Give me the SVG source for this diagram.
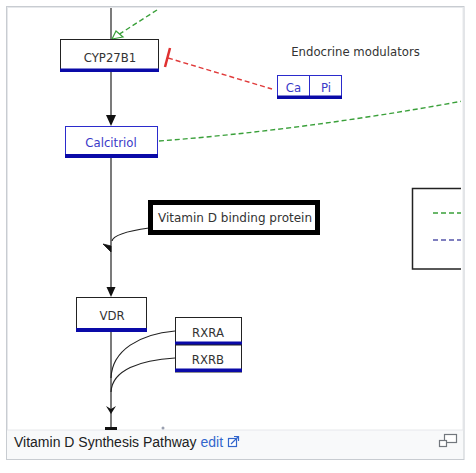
<svg xmlns="http://www.w3.org/2000/svg" width="476" height="473" viewBox="0 0 476 473">
<defs>
<style>
.lbl{font-family:"DejaVu Sans",Verdana,sans-serif;font-size:11.7px;fill:#333;text-anchor:middle}
.blt{fill:#3a3ac8}
.box{fill:#fff;stroke:#222;stroke-width:1}
.bbox{fill:#fff;stroke:#2b2bcc;stroke-width:1}
.bar{fill:#0a0aa8}
.ln{fill:none;stroke:#222;stroke-width:1.2}
.gd{fill:none;stroke:#3aa03a;stroke-width:1.4;stroke-dasharray:5,3}
.rd{fill:none;stroke:#e03a3a;stroke-width:1.4;stroke-dasharray:5,3}
.pd{fill:none;stroke:#5555aa;stroke-width:1.4;stroke-dasharray:5,3}
.cap{font-family:"Liberation Sans",Arial,sans-serif;font-size:14px;fill:#202122}
</style>
<clipPath id="img"><rect x="8" y="8" width="453" height="422"/></clipPath>
</defs>
<rect x="6.5" y="6.5" width="457.5" height="453" fill="#f8f9fa" stroke="#c8ccd1"/>
<rect x="7.5" y="7.5" width="455.5" height="422.5" fill="#fff" stroke="#e6e8eb"/>
<g clip-path="url(#img)">
<g id="connectors">
<line class="ln" x1="111" y1="8" x2="111" y2="39"/>
<line class="gd" x1="157" y1="10" x2="118" y2="35"/>
<polygon points="112,39 116,31 123,37" fill="#fff" stroke="#3aa03a" stroke-width="1.2"/>
<line class="ln" x1="111" y1="72" x2="111" y2="116"/>
<polygon points="106,115 116,115 111,126" fill="#111"/>
<line class="rd" x1="168" y1="58" x2="272" y2="89"/>
<line x1="170" y1="48" x2="165" y2="67" stroke="#e03030" stroke-width="2.5"/>
<path class="gd" d="M159,141 Q304,130 463,101"/>
<line class="ln" x1="111" y1="158" x2="111" y2="288"/>
<polygon points="106.5,287 115.5,287 111,297" fill="#111"/>
<path class="ln" d="M149,228 C128,231 113,235 112,241"/>
<path d="M103,244 L111,252 L111,246 Z" fill="#111" stroke="#111" stroke-width="0.8"/>
<line class="ln" x1="111" y1="332" x2="111" y2="430"/>
<path class="ln" d="M175,331 C140,334 112,350 111,378"/>
<path class="ln" d="M175,358 C140,360 112,370 111,392"/>
<polygon points="106,406 111,409 116,406 111,414" fill="#111"/>
<rect x="105" y="427" width="12" height="3" fill="#111"/>
<circle cx="163" cy="428" r="1.5" fill="#9aa0b0"/>
</g>
<g id="cyp27b1">
<rect class="box" x="60.5" y="39.5" width="98" height="32"/>
<rect class="bar" x="60" y="68.5" width="99" height="3.5"/>
<text class="lbl" x="110" y="62">CYP27B1</text>
</g>
<g id="endocrine">
<text class="lbl" x="355.5" y="56">Endocrine modulators</text>
</g>
<g id="capi">
<rect class="bbox" x="277.5" y="75.5" width="64" height="23"/>
<line x1="309.5" y1="75.5" x2="309.5" y2="98" stroke="#2b2bcc"/>
<rect class="bar" x="277" y="95.5" width="65" height="3.5"/>
<text class="lbl blt" x="293.5" y="92">Ca</text>
<text class="lbl blt" x="326" y="92">Pi</text>
</g>
<g id="calcitriol">
<rect class="bbox" x="65.5" y="126.5" width="92" height="31"/>
<rect class="bar" x="65" y="154" width="93" height="4"/>
<text class="lbl blt" x="111" y="147">Calcitriol</text>
</g>
<g id="vbp">
<line x1="148" y1="234.5" x2="320" y2="234.5" stroke="#2020a0" stroke-width="1"/>
<rect x="150.5" y="202.5" width="167" height="30" fill="#fff" stroke="#000" stroke-width="5"/>
<text class="lbl" x="235" y="222" style="font-size:12px">Vitamin D binding protein</text>
</g>
<g id="vdr">
<rect class="box" x="76.5" y="297.5" width="70" height="34"/>
<rect class="bar" x="76" y="328" width="71" height="4"/>
<text class="lbl" x="112" y="319.5">VDR</text>
</g>
<g id="rxra">
<rect class="box" x="175.5" y="317.5" width="66" height="27"/>
<rect class="bar" x="175" y="341.5" width="67" height="3.5"/>
<text class="lbl" x="208" y="337">RXRA</text>
</g>
<g id="rxrb">
<rect class="box" x="175.5" y="345" width="66" height="27"/>
<rect class="bar" x="175" y="368.5" width="67" height="3.5"/>
<text class="lbl" x="208" y="364">RXRB</text>
</g>
<g id="legend">
<rect x="412.5" y="188.5" width="70" height="80.5" fill="#fff" stroke="#222" stroke-width="1.5"/>
<line class="gd" x1="433" y1="213" x2="463" y2="213"/>
<line class="pd" x1="433" y1="240" x2="463" y2="240"/>
</g>
</g>
<g id="caption">
<text class="cap" x="14" y="447">Vitamin D Synthesis Pathway <tspan fill="#3366cc">edit</tspan></text>
<g fill="none" stroke="#3366cc" stroke-width="1.2">
<rect x="228.5" y="438.5" width="8" height="8" fill="#fff"/>
<path d="M231,444 L238,437 M234,436.5 L238.5,436.5 L238.5,441"/>
</g>
<g fill="#fff" stroke="#72777d" stroke-width="1.2">
<rect x="444.5" y="434.5" width="12" height="8"/>
<rect x="439.5" y="440.5" width="7" height="6"/>
</g>
</g>
</svg>
